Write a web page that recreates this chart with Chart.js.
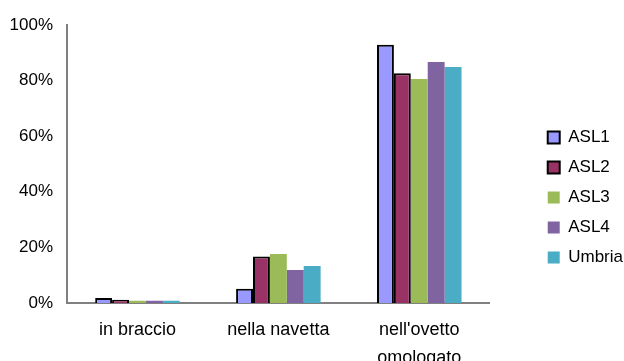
<!DOCTYPE html>
<html>
<head>
<meta charset="utf-8">
<script src="https://cdn.jsdelivr.net/npm/chart.js@4"></script>
<style>
  html, body { margin: 0; padding: 0; background: #fff; }
  #wrap { width: 624px; height: 361px; }
</style>
</head>
<body>
<div id="wrap"><canvas id="chart" width="624" height="361"></canvas></div>
<script>
// Daten (Prozent)
const categories = ['in braccio', 'nella navetta', ["nell'ovetto", 'omologato']];
const asl1 = [1.8, 5.1, 92.9];
const asl2 = [1.2, 16.7, 82.6];
const asl3 = [0.8, 17.6, 80.6];
const asl4 = [0.8, 11.9, 86.7];
const umbria = [0.8, 13.3, 84.9];
const yTicks = [0, 20, 40, 60, 80, 100];

const font = { family: '"Liberation Sans", Arial, sans-serif', size: 17 };
Chart.defaults.color = '#000';

function series(label, data, color, border) {
  return {
    label: label,
    data: data,
    backgroundColor: color,
    borderColor: '#000',
    borderWidth: border ? 2 : 0,
    categoryPercentage: 0.6,
    barPercentage: 1.0
  };
}

new Chart(document.getElementById('chart').getContext('2d'), {
  type: 'bar',
  data: {
    labels: categories,
    datasets: [
      series('ASL1', asl1, '#9999FF', true),
      series('ASL2', asl2, '#993366', true),
      series('ASL3', asl3, '#9BBB59', false),
      series('ASL4', asl4, '#8064A2', false),
      series('Umbria', umbria, '#4BACC6', false)
    ]
  },
  options: {
    responsive: false,
    animation: false,
    layout: { padding: { top: 25, right: -9, bottom: 0, left: 0 } },
    scales: {
      x: {
        grid: { display: false, drawTicks: false },
        border: { display: true, color: '#808080', width: 2 },
        ticks: { font: Object.assign({}, font, { size: 18, lineHeight: 1.56 }), padding: 13, maxRotation: 0, autoSkip: false },
        afterFit: (scale) => { scale.height = 58; }
      },
      y: {
        min: 0,
        max: 100,
        grid: { display: false, drawTicks: false },
        border: { display: true, color: '#808080', width: 2 },
        afterBuildTicks: (scale) => { scale.ticks = yTicks.map(v => ({ value: v })); },
        ticks: { font: font, padding: 14, callback: (v) => v + '%' },
        afterFit: (scale) => { scale.width = 67; }
      },
      // unsichtbare Achse als Abstand zwischen Diagramm und Legende
      yGap: {
        position: 'right',
        display: true,
        grid: { display: false, drawTicks: false },
        border: { display: false },
        ticks: { display: false },
        afterFit: (scale) => { scale.width = 45; }
      }
    },
    plugins: {
      legend: {
        position: 'right',
        title: { display: true, text: '', font: { size: 5 }, padding: { top: 0, bottom: 3 } },
        labels: { font: font, boxWidth: 12, boxHeight: 12, padding: 13 }
      },
      tooltip: { enabled: false }
    }
  }
});
</script>
</body>
</html>
